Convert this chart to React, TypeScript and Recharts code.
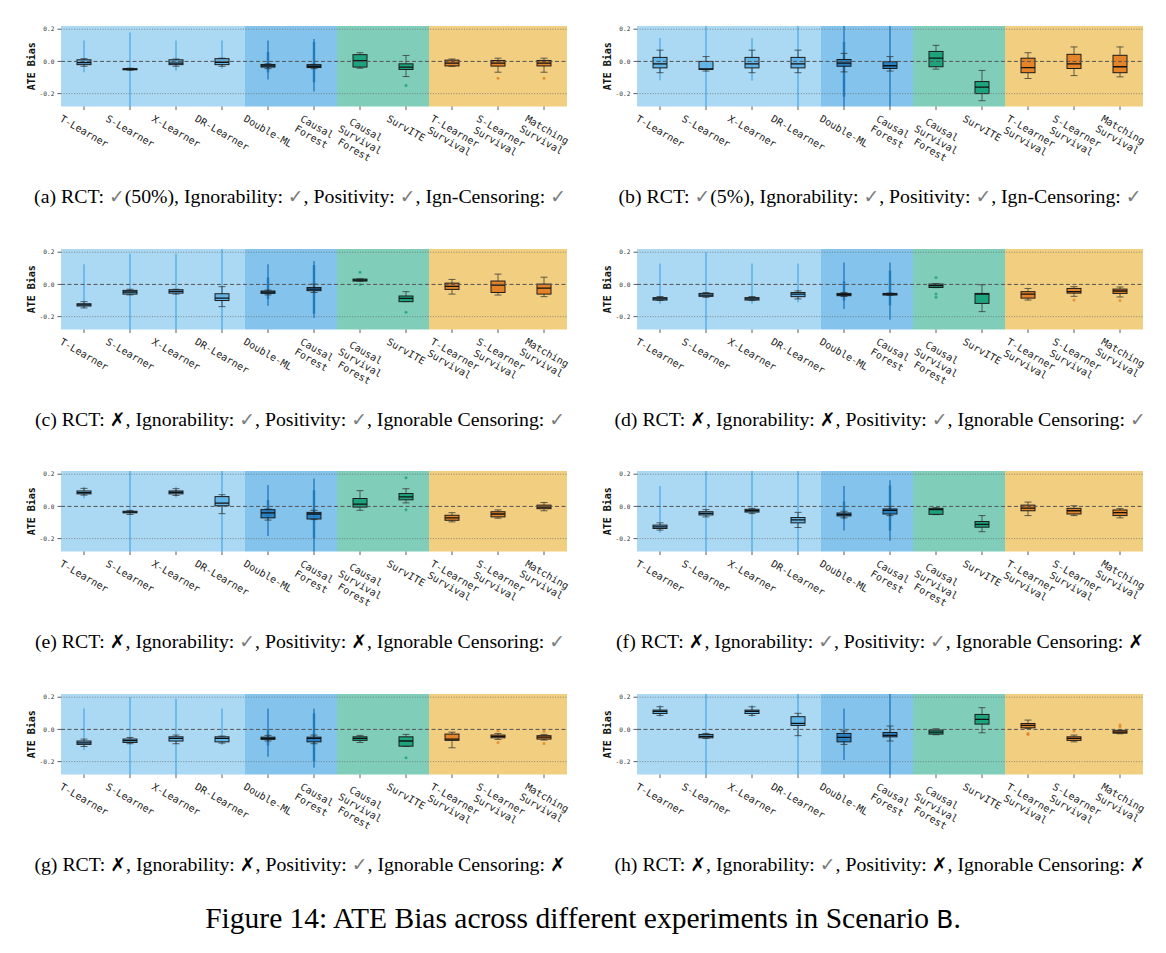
import React from 'react';
import { ComposedChart, Bar, XAxis, YAxis, ReferenceArea, ReferenceLine, Label } from 'recharts';

// ---- categories -----------------------------------------------------------
const methods = [
  'T-Learner',
  'S-Learner',
  'X-Learner',
  'DR-Learner',
  'Double-ML',
  'Causal\nForest',
  'Causal\nSurvival\nForest',
  'SurvITE',
  'T-Learner\nSurvival',
  'S-Learner\nSurvival',
  'Matching\nSurvival',
];
const methodGroups = ['meta', 'meta', 'meta', 'meta', 'dml', 'dml', 'surv', 'surv', 'naive', 'naive', 'naive'];

const yTicks = [-0.2, 0, 0.2];
const yDomain: [number, number] = [-0.28, 0.22];

// ---- box statistics: [whiskerLo, q1, median, q3, whiskerHi] ----------------
type Stat = [number, number, number, number, number];
// per-run spread of estimates: [lo, hi] or [lo, hi, coreLo, coreHi]
type Spread = number[] | null;

const boxesA: Stat[] = [
  [-0.03, -0.02, -0.008, 0.01, 0.017],
  [-0.055, -0.052, -0.048, -0.045, -0.042],
  [-0.03, -0.02, -0.01, 0.01, 0.015],
  [-0.03, -0.02, -0.005, 0.017, 0.02],
  [-0.045, -0.035, -0.028, -0.019, -0.015],
  [-0.045, -0.038, -0.03, -0.02, -0.018],
  [-0.042, -0.035, 0.005, 0.042, 0.054],
  [-0.094, -0.05, -0.035, -0.015, 0.037],
  [-0.03, -0.028, -0.01, 0.008, 0.015],
  [-0.067, -0.029, -0.01, 0.006, 0.02],
  [-0.067, -0.028, -0.01, 0.006, 0.02],
];
const spreadA: Spread[] = [
  [-0.067, 0.13], [-0.35, 0.18], [-0.056, 0.13], [-0.045, 0.13],
  [-0.112, 0.13, -0.067, 0.058], [-0.187, 0.14, -0.13, 0.12],
  null, null, null, null, null,
];
const outliersA: number[][] = [[], [], [], [], [], [], [], [-0.15], [], [-0.104], [-0.104]];

const boxesB: Stat[] = [
  [-0.07, -0.04, -0.015, 0.025, 0.07],
  [-0.06, -0.05, -0.046, 0.0, 0.03],
  [-0.07, -0.04, -0.015, 0.025, 0.07],
  [-0.07, -0.04, -0.015, 0.025, 0.07],
  [-0.065, -0.03, -0.01, 0.012, 0.05],
  [-0.06, -0.044, -0.027, -0.002, 0.03],
  [-0.048, -0.033, 0.02, 0.062, 0.1],
  [-0.244, -0.2, -0.16, -0.125, -0.056],
  [-0.106, -0.07, -0.038, 0.02, 0.054],
  [-0.088, -0.044, -0.015, 0.044, 0.09],
  [-0.096, -0.07, -0.033, 0.038, 0.09],
];
const spreadB: Spread[] = [
  [-0.117, 0.145], [-0.35, 0.3], [-0.12, 0.145], [-0.35, 0.3],
  [-0.35, 0.3, -0.22, 0.12], [-0.35, 0.3],
  null, null, null, null, null,
];
const outliersB: number[][] = [[], [], [], [], [], [], [], [], [], [], []];

const boxesC: Stat[] = [
  [-0.146, -0.134, -0.127, -0.12, -0.107],
  [-0.065, -0.06, -0.047, -0.037, -0.03],
  [-0.06, -0.054, -0.043, -0.033, -0.03],
  [-0.138, -0.1, -0.085, -0.058, -0.014],
  [-0.065, -0.056, -0.048, -0.041, -0.035],
  [-0.05, -0.039, -0.029, -0.019, 0.002],
  [0.02, 0.021, 0.027, 0.033, 0.035],
  [-0.107, -0.107, -0.087, -0.072, -0.045],
  [-0.06, -0.031, -0.012, 0.008, 0.031],
  [-0.066, -0.05, -0.004, 0.021, 0.064],
  [-0.076, -0.06, -0.023, 0.002, 0.045],
];
const spreadC: Spread[] = [
  [-0.15, 0.126], [-0.35, 0.19], [-0.35, 0.19], [-0.35, 0.3],
  [-0.132, 0.126, -0.09, 0.043], [-0.208, 0.146, -0.18, 0.12],
  null, null, null, null, null,
];
const outliersC: number[][] = [[], [], [], [], [], [], [0.076, 0.0], [-0.173], [], [], []];

const boxesD: Stat[] = [
  [-0.1, -0.097, -0.09, -0.082, -0.075],
  [-0.08, -0.074, -0.066, -0.056, -0.05],
  [-0.1, -0.097, -0.09, -0.082, -0.075],
  [-0.09, -0.076, -0.06, -0.05, -0.04],
  [-0.075, -0.07, -0.063, -0.056, -0.05],
  [-0.068, -0.066, -0.06, -0.056, -0.054],
  [-0.02, -0.019, -0.008, 0.002, 0.005],
  [-0.169, -0.118, -0.06, -0.056, -0.002],
  [-0.097, -0.085, -0.06, -0.045, -0.025],
  [-0.074, -0.054, -0.045, -0.025, -0.014],
  [-0.078, -0.056, -0.041, -0.029, -0.016],
];
const spreadD: Spread[] = [
  [-0.12, 0.13], [-0.35, 0.2], [-0.12, 0.13], [-0.11, 0.13],
  [-0.152, 0.136, -0.1, 0.02], [-0.22, 0.136, -0.13, 0.085],
  null, null, null, null, null,
];
const outliersD: number[][] = [[], [], [], [], [], [], [0.043, -0.06, -0.08], [], [], [-0.097], [-0.1]];

const boxesE: Stat[] = [
  [0.07, 0.078, 0.086, 0.096, 0.112],
  [-0.05, -0.04, -0.035, -0.03, -0.025],
  [0.068, 0.078, 0.088, 0.096, 0.11],
  [-0.045, 0.004, 0.02, 0.061, 0.073],
  [-0.085, -0.071, -0.04, -0.02, -0.016],
  [-0.082, -0.078, -0.047, -0.037, -0.024],
  [-0.024, -0.004, 0.014, 0.049, 0.098],
  [0.022, 0.041, 0.059, 0.08, 0.11],
  [-0.096, -0.086, -0.071, -0.055, -0.039],
  [-0.073, -0.065, -0.047, -0.033, -0.022],
  [-0.027, -0.014, -0.004, 0.008, 0.024],
];
const spreadE: Spread[] = [
  [0.05, 0.122], [-0.35, 0.3], [0.055, 0.122], [-0.35, 0.3],
  [-0.184, 0.133, -0.07, 0.04], [-0.35, 0.173, -0.2, 0.1],
  null, null, null, null, null,
];
const outliersE: number[][] = [[], [], [], [], [], [], [], [0.178, -0.02], [], [], []];

const boxesF: Stat[] = [
  [-0.147, -0.137, -0.127, -0.116, -0.102],
  [-0.065, -0.053, -0.043, -0.033, -0.02],
  [-0.045, -0.035, -0.027, -0.018, -0.012],
  [-0.131, -0.102, -0.084, -0.069, -0.037],
  [-0.071, -0.059, -0.051, -0.041, -0.03],
  [-0.057, -0.047, -0.025, -0.016, 0.0],
  [-0.051, -0.049, -0.02, -0.012, -0.008],
  [-0.157, -0.129, -0.112, -0.094, -0.057],
  [-0.057, -0.027, -0.01, 0.008, 0.027],
  [-0.057, -0.047, -0.027, -0.012, 0.004],
  [-0.071, -0.057, -0.039, -0.022, -0.014],
];
const spreadF: Spread[] = [
  [-0.163, 0.127], [-0.35, 0.3], [-0.35, 0.3], [-0.35, 0.3],
  [-0.149, 0.127, -0.08, 0.03], [-0.214, 0.163, -0.15, 0.13],
  null, null, null, null, null,
];
const outliersF: number[][] = [[], [], [], [], [], [], [], [], [], [], []];

const boxesG: Stat[] = [
  [-0.106, -0.093, -0.083, -0.072, -0.06],
  [-0.089, -0.081, -0.07, -0.06, -0.05],
  [-0.089, -0.072, -0.056, -0.046, -0.035],
  [-0.085, -0.077, -0.056, -0.046, -0.041],
  [-0.072, -0.062, -0.056, -0.048, -0.037],
  [-0.089, -0.077, -0.056, -0.048, -0.035],
  [-0.081, -0.068, -0.056, -0.046, -0.037],
  [-0.106, -0.104, -0.072, -0.046, -0.031],
  [-0.114, -0.068, -0.06, -0.029, -0.017],
  [-0.062, -0.052, -0.043, -0.035, -0.025],
  [-0.066, -0.06, -0.048, -0.039, -0.031],
];
const spreadG: Spread[] = [
  [-0.128, 0.13], [-0.35, 0.2], [-0.35, 0.19], [-0.097, 0.13],
  [-0.17, 0.13, -0.1, 0.0], [-0.238, 0.13, -0.2, 0.1],
  null, null, null, null, null,
];
const outliersG: number[][] = [[], [], [], [], [], [], [], [-0.176], [], [-0.008, -0.081], [-0.012, -0.087]];

const boxesH: Stat[] = [
  [0.087, 0.099, 0.112, 0.12, 0.141],
  [-0.056, -0.052, -0.043, -0.031, -0.025],
  [0.087, 0.099, 0.112, 0.12, 0.141],
  [-0.039, 0.025, 0.037, 0.079, 0.1],
  [-0.093, -0.077, -0.05, -0.025, -0.01],
  [-0.072, -0.046, -0.037, -0.019, 0.021],
  [-0.033, -0.029, -0.017, -0.004, 0.004],
  [-0.021, 0.033, 0.062, 0.093, 0.135],
  [0.006, 0.01, 0.025, 0.037, 0.058],
  [-0.077, -0.068, -0.056, -0.046, -0.035],
  [-0.027, -0.023, -0.017, -0.008, -0.004],
];
const spreadH: Spread[] = [
  [0.079, 0.15], [-0.35, 0.3], [0.079, 0.15], [-0.35, 0.3],
  [-0.19, 0.13], [-0.35, 0.3],
  null, null, null, null, null,
];
const outliersH: number[][] = [[], [], [], [], [], [], [], [], [-0.025, -0.031], [-0.01], [0.027, 0.017]];

// ---- sub-captions ---------------------------------------------------------
const captions = [
  '(a) RCT: ✓(50%), Ignorability: ✓, Positivity: ✓, Ign-Censoring: ✓',
  '(b) RCT: ✓(5%), Ignorability: ✓, Positivity: ✓, Ign-Censoring: ✓',
  '(c) RCT: ✗, Ignorability: ✓, Positivity: ✓, Ignorable Censoring: ✓',
  '(d) RCT: ✗, Ignorability: ✗, Positivity: ✓, Ignorable Censoring: ✓',
  '(e) RCT: ✗, Ignorability: ✓, Positivity: ✗, Ignorable Censoring: ✓',
  '(f) RCT: ✗, Ignorability: ✓, Positivity: ✓, Ignorable Censoring: ✗',
  '(g) RCT: ✗, Ignorability: ✗, Positivity: ✓, Ignorable Censoring: ✗',
  '(h) RCT: ✗, Ignorability: ✓, Positivity: ✗, Ignorable Censoring: ✗',
];

// ---- styling ----------------------------------------------------------------
const MONO = '"DejaVu Sans Mono", monospace';
const SERIF = '"Liberation Serif", "Times New Roman", serif';

const regionColors: Record<string, string> = { meta: '#ABD8F2', dml: '#84C3EB', surv: '#80CDB9', naive: '#F1CE80' };
const boxColors: Record<string, string> = { meta: '#5BB2E6', dml: '#1F7BBF', surv: '#12A078', naive: '#E27B1E' };
const spreadColors: Record<string, string> = { meta: '#47A7E2', dml: '#1670B4', surv: '#0E9A72', naive: '#E0791C' };

const regionSpans = [
  { from: 0, to: 3, group: 'meta' },
  { from: 4, to: 5, group: 'dml' },
  { from: 6, to: 7, group: 'surv' },
  { from: 8, to: 10, group: 'naive' },
];

function buildRows(boxes: Stat[], spreads: Spread[], outliers: number[][]) {
  return methods.map((name, i) => {
    const vals = [...boxes[i], ...(spreads[i] ?? []), ...outliers[i]];
    return {
      name,
      group: methodGroups[i],
      stat: boxes[i],
      spread: spreads[i],
      outliers: outliers[i],
      range: [Math.min(...vals), Math.max(...vals)],
    };
  });
}

const panels = [
  buildRows(boxesA, spreadA, outliersA),
  buildRows(boxesB, spreadB, outliersB),
  buildRows(boxesC, spreadC, outliersC),
  buildRows(boxesD, spreadD, outliersD),
  buildRows(boxesE, spreadE, outliersE),
  buildRows(boxesF, spreadF, outliersF),
  buildRows(boxesG, spreadG, outliersG),
  buildRows(boxesH, spreadH, outliersH),
];

// Box-and-whisker glyph drawn inside the bar slot; the bar spans the full
// value range of the row so every statistic maps linearly onto its pixels.
function BoxShape(props: any) {
  const { x, y, width, height, payload } = props;
  if (!payload) return null;
  const [vLo, vHi] = payload.range as number[];
  const top = Math.min(y, y + height);
  const bot = Math.max(y, y + height);
  const py = (v: number) => top + ((vHi - v) / (vHi - vLo)) * (bot - top);
  const cx = x + width / 2;
  const half = width / 2;
  const [wLo, q1, med, q3, wHi] = payload.stat as Stat;
  const g = payload.group as string;
  const sp = payload.spread as Spread;
  const edge = '#1c1c1c';
  return (
    <g>
      {sp && (
        <line x1={cx} x2={cx} y1={py(sp[1])} y2={py(sp[0])} stroke={spreadColors[g]} strokeWidth={1.5} strokeOpacity={0.8} />
      )}
      {sp && sp.length > 2 && (
        <line x1={cx} x2={cx} y1={py(sp[3])} y2={py(sp[2])} stroke={spreadColors[g]} strokeWidth={2.5} strokeOpacity={0.7} />
      )}
      <line x1={cx} x2={cx} y1={py(q3)} y2={py(wHi)} stroke="#333" strokeWidth={1} strokeOpacity={0.75} />
      <line x1={cx} x2={cx} y1={py(q1)} y2={py(wLo)} stroke="#333" strokeWidth={1} strokeOpacity={0.75} />
      <line x1={cx - half / 2} x2={cx + half / 2} y1={py(wHi)} y2={py(wHi)} stroke="#333" strokeWidth={1} strokeOpacity={0.75} />
      <line x1={cx - half / 2} x2={cx + half / 2} y1={py(wLo)} y2={py(wLo)} stroke="#333" strokeWidth={1} strokeOpacity={0.75} />
      <rect
        x={cx - half}
        y={py(q3)}
        width={width}
        height={Math.max(py(q1) - py(q3), 1)}
        fill={boxColors[g]}
        fillOpacity={0.9}
        stroke={edge}
        strokeWidth={1}
      />
      <line x1={cx - half} x2={cx + half} y1={py(med)} y2={py(med)} stroke="#111" strokeWidth={1.3} />
      {(payload.outliers as number[]).map((o, k) => (
        <circle key={k} cx={cx} cy={py(o)} r={1.5} fill={spreadColors[g]} fillOpacity={0.7} />
      ))}
    </g>
  );
}

// Rotated, possibly multi-line category label (centred under the tick).
function XTick(props: any) {
  const { x, y, payload } = props;
  const lines = String(payload.value).split('\n');
  const f = 10;
  const lh = f * 1.15;
  const w = Math.max(...lines.map((l) => l.length)) * f * 0.602;
  const h = lines.length * lh;
  const tx = x + h / 4;
  const ty = y + w / 4;
  return (
    <g transform={`translate(${tx},${ty}) rotate(30)`}>
      {lines.map((l, i) => (
        <text key={i} x={0} y={i * lh + f * 0.9} textAnchor="middle" fontFamily={MONO} fontSize={f} fill="#222">
          {l}
        </text>
      ))}
    </g>
  );
}

function YLabelContent(props: any) {
  const vb = props.viewBox || {};
  const lx = (vb.x ?? 0) + 10.5;
  const ly = (vb.y ?? 0) + (vb.height ?? 0) / 2;
  return (
    <text
      x={lx}
      y={ly}
      transform={`rotate(-90, ${lx}, ${ly})`}
      textAnchor="middle"
      dominantBaseline="central"
      fontFamily={MONO}
      fontWeight="bold"
      fontSize={10}
      fill="#111"
    >
      ATE Bias
    </text>
  );
}

function Panel({ rows }: { rows: any[] }) {
  return (
    <ComposedChart width={580} height={180} data={rows} margin={{ top: 26, right: 13, bottom: 13.5, left: 21 }}>
      <XAxis
        dataKey="name"
        type="category"
        interval={0}
        height={60}
        tick={<XTick />}
        tickSize={3.5}
        tickMargin={3}
        axisLine={false}
        tickLine={{ stroke: '#333', strokeWidth: 0.8 }}
      />
      <YAxis
        type="number"
        domain={yDomain}
        ticks={yTicks}
        allowDataOverflow
        width={40}
        axisLine={false}
        tickSize={3.5}
        tickMargin={3}
        tickLine={{ stroke: '#333', strokeWidth: 0.8 }}
        tick={{ fontSize: 6.2, fontFamily: MONO, fill: '#333' }}
        tickFormatter={(v: number) => v.toFixed(1)}
      >
        <Label content={<YLabelContent />} />
      </YAxis>
      {regionSpans.map((r) => (
        <ReferenceArea
          key={r.group}
          x1={methods[r.from]}
          x2={methods[r.to]}
          fill={regionColors[r.group]}
          fillOpacity={1}
          stroke="none"
        />
      ))}
      <ReferenceLine y={0.2} stroke="#666" strokeDasharray="1 1.6" strokeWidth={0.7} />
      <ReferenceLine y={-0.2} stroke="#666" strokeDasharray="1 1.6" strokeWidth={0.7} />
      <ReferenceLine y={0} stroke="#555" strokeDasharray="4 2.5" strokeWidth={1} />
      <Bar dataKey="range" barSize={14} shape={<BoxShape />} isAnimationActive={false} />
      <ReferenceArea fill="none" fillOpacity={0} stroke="#808080" strokeWidth={1.3} />
    </ComposedChart>
  );
}

function Caption({ text }: { text: string }) {
  const parts = text.split(/([✓✗])/);
  return (
    <>
      {parts.map((p, i) =>
        p === '✓' ? (
          <span key={i} style={{ color: '#7a7a7a', fontFamily: '"DejaVu Sans", sans-serif', fontSize: '0.95em' }}>
            ✓
          </span>
        ) : p === '✗' ? (
          <span key={i} style={{ color: '#000', fontFamily: '"DejaVu Sans", sans-serif', fontSize: '0.95em' }}>
            ✗
          </span>
        ) : (
          <span key={i}>{p}</span>
        ),
      )}
    </>
  );
}

const colLeft = [0, 576];
const rowTop = [0, 223, 445, 668];

export default function App() {
  return (
    <div style={{ position: 'absolute', left: 0, top: 0, width: 1166, height: 953, background: '#fff', overflow: 'hidden' }}>
      {panels.map((rows, i) => {
        const col = i % 2;
        const row = Math.floor(i / 2);
        return (
          <React.Fragment key={i}>
            <div style={{ position: 'absolute', left: colLeft[col], top: rowTop[row] }}>
              <Panel rows={rows} />
            </div>
            <div
              style={{
                position: 'absolute',
                left: col === 0 ? 10 : 590,
                top: rowTop[row] + 184,
                width: 580,
                textAlign: 'center',
                fontFamily: SERIF,
                fontSize: 19.8,
                lineHeight: '24px',
                color: '#000',
                whiteSpace: 'nowrap',
              }}
            >
              <Caption text={captions[i]} />
            </div>
          </React.Fragment>
        );
      })}
      <div
        style={{
          position: 'absolute',
          left: 0,
          top: 900,
          width: 1166,
          textAlign: 'center',
          fontFamily: SERIF,
          fontSize: 29.5,
          lineHeight: '36px',
          color: '#000',
          whiteSpace: 'nowrap',
        }}
      >
        Figure 14: ATE Bias across different experiments in Scenario{' '}
        <span style={{ fontFamily: '"DejaVu Sans", sans-serif', fontSize: 25 }}>B</span>.
      </div>
    </div>
  );
}
